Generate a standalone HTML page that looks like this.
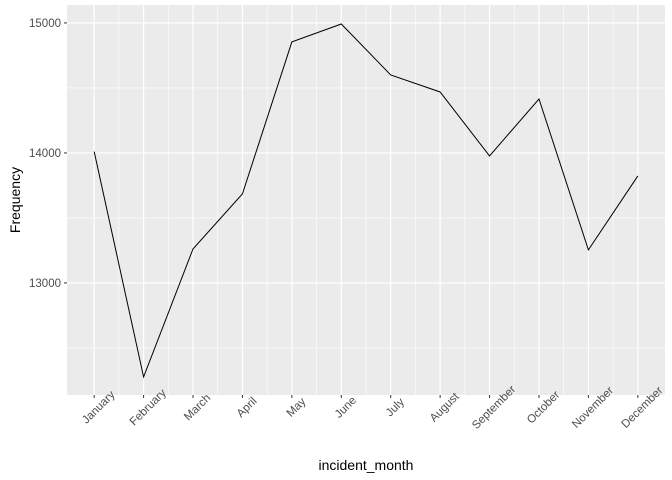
<!DOCTYPE html>
<html><head><meta charset="utf-8"><style>
body{margin:0;background:#fff}
svg{display:block;font-family:"Liberation Sans",sans-serif}
</style></head><body>
<svg id="c" width="672" height="480"></svg>
<script>
const categories=["January","February","March","April","May","June","July","August","September","October","November","December"];
const frequency=[14010,12277,13262,13685,14854,14992,14600,14469,13977,14415,13254,13823];
const yTicks=[13000,14000,15000];
const yMinor=[12500,13500,14500];
const svg=document.getElementById('c');
const NS='http://www.w3.org/2000/svg';
const L=67,R=665,T=5,B=395;
const yMin=12138,yMax=15138;
const step=(R-L)/(categories.length-1+1.1);
const x=i=>L+step*(0.55+i);
const y=v=>B-(v-yMin)/(yMax-yMin)*(B-T);
function el(t,a,p){const e=document.createElementNS(NS,t);for(const k in a)e.setAttribute(k,a[k]);(p||svg).appendChild(e);return e;}
const bg=el('rect',{x:L,y:T,width:R-L,height:B-T,fill:'#ebebeb'});


yMinor.forEach(v=>{const g=el('line',{x1:L,x2:R,y1:y(v),y2:y(v),stroke:'#fff','stroke-width':0.6});

});
for(let i=0;i<categories.length-1;i++){const g=el('line',{x1:(x(i)+x(i+1))/2,x2:(x(i)+x(i+1))/2,y1:T,y2:B,stroke:'#fff','stroke-width':0.6});

}
yTicks.forEach(v=>{const g=el('line',{x1:L,x2:R,y1:y(v),y2:y(v),stroke:'#fff','stroke-width':1.2});


const tk=el('line',{x1:L-3,x2:L,y1:y(v),y2:y(v),stroke:'#333'});


const t=el('text',{x:L-6,y:y(v)+4,'text-anchor':'end','font-size':11.5,fill:'#4d4d4d'});t.textContent=v;

});
categories.forEach((c,i)=>{const g=el('line',{x1:x(i),x2:x(i),y1:T,y2:B,stroke:'#fff','stroke-width':1.2});


const tk=el('line',{x1:x(i),x2:x(i),y1:B,y2:B+3,stroke:'#333'});


const cx=x(i)+4,cy=B+12;
const t=el('text',{x:cx,y:cy+4,'text-anchor':'middle','font-size':11.5,fill:'#4d4d4d',transform:`rotate(-45 ${cx} ${cy})`});t.textContent=c;

});
const line=el('polyline',{points:frequency.map((v,i)=>x(i)+','+y(v)).join(' '),fill:'none',stroke:'#000','stroke-width':1});


const xt=el('text',{x:(L+R)/2,y:470,'text-anchor':'middle','font-size':14,fill:'#000'});xt.textContent='incident_month';


const yt=el('text',{x:20,y:(T+B)/2,'text-anchor':'middle','font-size':14,fill:'#000',transform:`rotate(-90 20 ${(T+B)/2})`});yt.textContent='Frequency';


</script>
</body></html>
